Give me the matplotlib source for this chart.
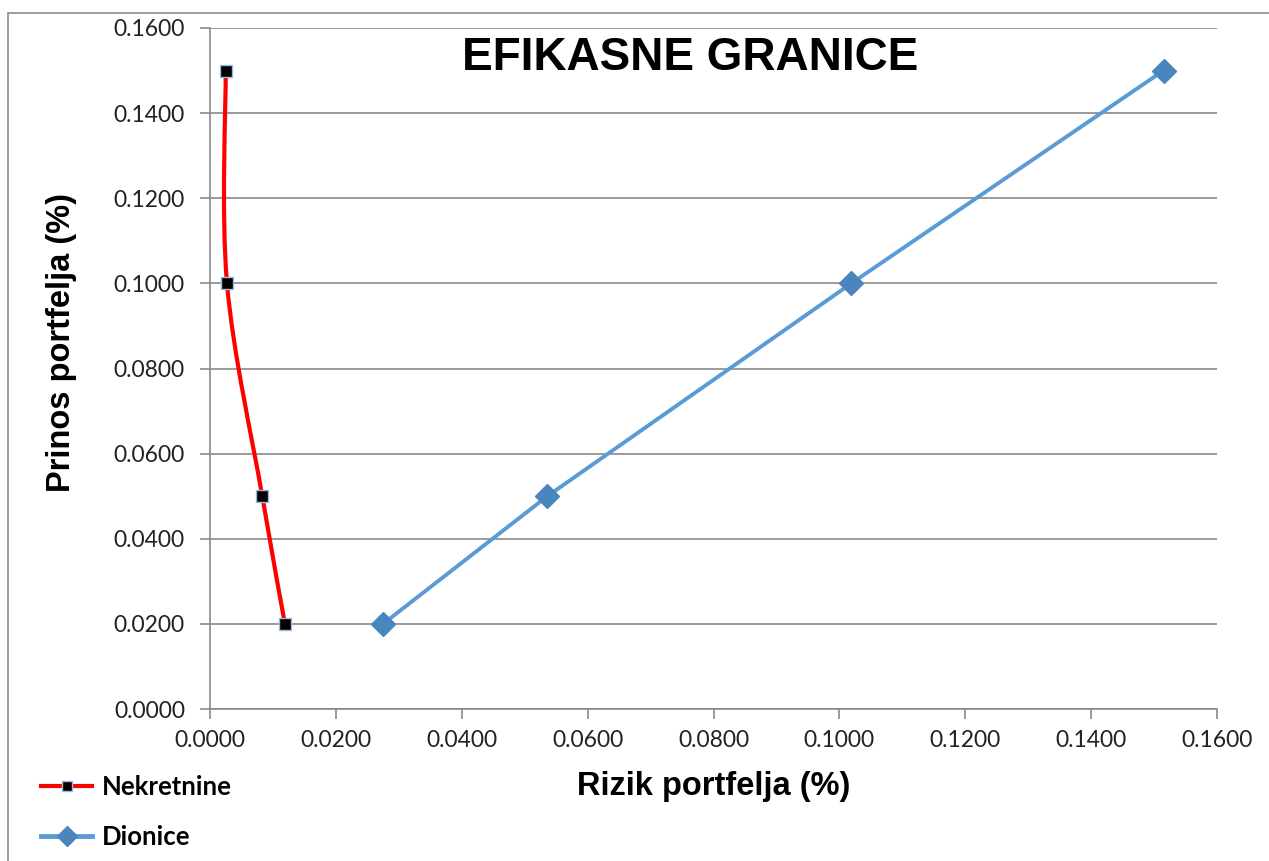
import matplotlib
matplotlib.use("Agg")
import matplotlib.pyplot as plt
import numpy as np
from matplotlib.path import Path
from matplotlib.patches import PathPatch, Rectangle
from matplotlib.lines import Line2D

# ---- data ----
nek_risk = [0.0119, 0.0083, 0.0027, 0.0025]
nek_return = [0.02, 0.05, 0.10, 0.15]
dio_risk = [0.0275, 0.0536, 0.1019, 0.1515]
dio_return = [0.02, 0.05, 0.10, 0.15]
ticks = [0.0, 0.02, 0.04, 0.06, 0.08, 0.10, 0.12, 0.14, 0.16]
title = "EFIKASNE GRANICE"
xlabel = "Rizik portfelja (%)"
ylabel = "Prinos portfelja (%)"
labels = ["Nekretnine", "Dionice"]

RED = "#FF0000"
BLUE = "#5B9BD5"
BLUE_M = "#4A86BE"
GRID = "#898989"
W, H = 1269, 861

fig = plt.figure(figsize=(W / 100, H / 100), dpi=100)
fig.patch.set_facecolor("white")
# outer chart border (left & top visible)
fig.add_artist(Rectangle((8 / W, -0.1), 1.2, 1 - 13 / H + 0.1, transform=fig.transFigure,
                         fill=False, edgecolor="#8C8C8C", lw=1.2))

ax = fig.add_axes([210 / W, 1 - 709 / H, (1217 - 210) / W, (709 - 28) / H])
ax.set_xlim(0, 0.16)
ax.set_ylim(0, 0.16)
ax.set_xticks(ticks)
ax.set_yticks(ticks)
ax.set_xticklabels([f"{t:.4f}" for t in ticks], fontfamily="Lato", fontsize=16.5, color="#222222")
ax.set_yticklabels([f"{t:.4f}" for t in ticks], fontfamily="Lato", fontsize=16.5, color="#222222")
ax.tick_params(axis="both", direction="out", length=7, width=1.2, color=GRID)
ax.tick_params(axis="y", pad=11)
ax.tick_params(axis="x", pad=8)
for s in ["top", "right"]:
    ax.spines[s].set_visible(False)
for s in ["left", "bottom"]:
    ax.spines[s].set_color(GRID)
    ax.spines[s].set_linewidth(1.2)
ax.yaxis.grid(True, color=GRID, lw=1.2)
ax.set_axisbelow(True)


def smooth_path(xs, ys):
    pts = np.column_stack([xs, ys])
    n = len(pts)
    verts = [pts[0]]
    codes = [Path.MOVETO]
    for i in range(n - 1):
        p0 = pts[i - 1] if i > 0 else pts[i]
        p1 = pts[i]
        p2 = pts[i + 1]
        p3 = pts[i + 2] if i + 2 < n else pts[i + 1]
        c1 = p1 + (p2 - p0) / 6
        c2 = p2 - (p3 - p1) / 6
        verts += [c1, c2, p2]
        codes += [Path.CURVE4] * 3
    return Path(verts, codes)


ax.add_patch(PathPatch(smooth_path(nek_risk, nek_return), fill=False, edgecolor=RED, lw=3, zorder=3))
ax.plot(nek_risk, nek_return, ls="none", marker="s", ms=8, mfc="black", mec="#9DB9DC", mew=1, zorder=4)
ax.plot(dio_risk, dio_return, color=BLUE, lw=2.8, marker="D", ms=12.5, mfc=BLUE_M, mec=BLUE_M, zorder=4)

fig.text(690 / W, 1 - 58 / H, title, fontfamily="Liberation Sans", fontweight="bold",
         fontsize=33, ha="center", va="center")
fig.text(714 / W, 1 - 787 / H, xlabel, fontfamily="Liberation Sans", fontweight="bold",
         fontsize=23.5, ha="center", va="center")
fig.text(62 / W, 1 - 343 / H, ylabel, fontfamily="Liberation Sans", fontweight="bold",
         fontsize=23.5, ha="center", va="center", rotation=90)

handles = [
    Line2D([], [], color=RED, lw=3, marker="s", ms=7.5, mfc="black", mec="#9DB9DC"),
    Line2D([], [], color=BLUE, lw=3.5, marker="D", ms=10, mfc=BLUE_M, mec=BLUE_M),
]
leg = fig.legend(handles, labels, loc="center left", bbox_to_anchor=(41 / W, 1 - 812 / H),
                 frameon=False, prop={"family": "Lato", "weight": "bold", "size": 18.5},
                 handlelength=2.0, labelspacing=1.0, handletextpad=0.35,
                 borderpad=0, borderaxespad=0)

fig.savefig("out.png", dpi=100)
